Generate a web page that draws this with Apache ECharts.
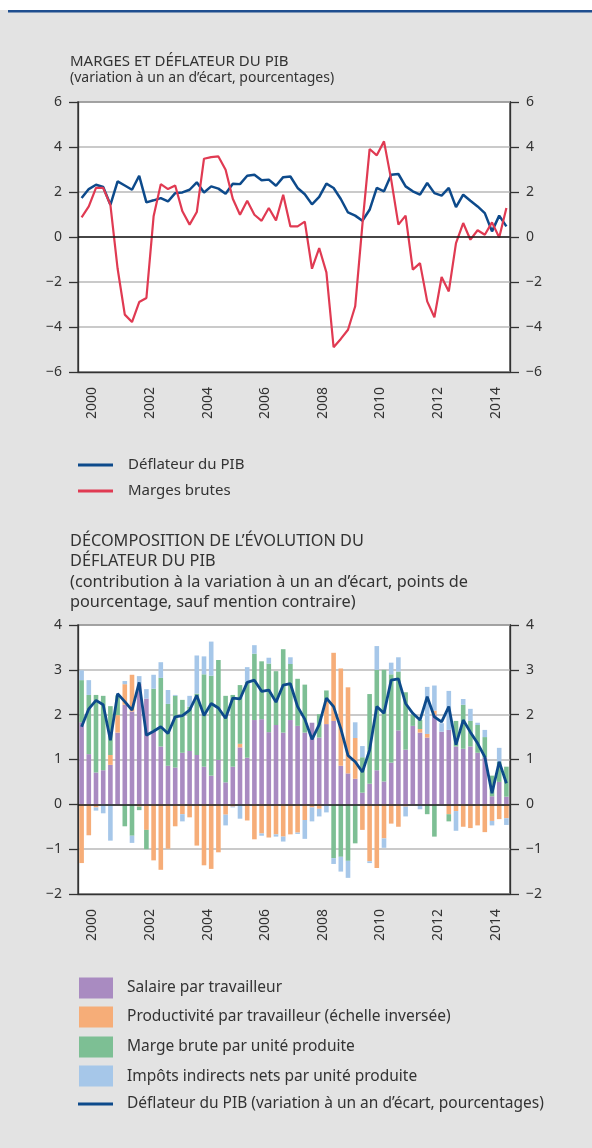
<!DOCTYPE html>
<html>
<head>
<meta charset="utf-8">
<script src="https://cdn.jsdelivr.net/npm/echarts@6/dist/echarts.min.js"></script>
<style>
  html, body { margin: 0; padding: 0; background: #fff; }
  #chart { width: 592px; height: 1148px; }
</style>
</head>
<body>
<div id="chart"></div>
<script>
(function() {
  // années et trimestres
  var years = ['2000', '2001', '2002', '2003', '2004', '2005', '2006', '2007',
               '2008', '2009', '2010', '2011', '2012', '2013', '2014'];
  var quarters = [];
  years.forEach(function(y) { for (var q = 1; q <= 4; q++) quarters.push(y + 'T' + q); });

  // déflateur du PIB (variation à un an d'écart, %)
  var deflateur = [
    1.73, 2.13, 2.32, 2.22, 1.43, 2.47, 2.29, 2.10, 2.72, 1.54,
    1.63, 1.73, 1.58, 1.95, 1.98, 2.10, 2.43, 1.98, 2.25, 2.15,
    1.92, 2.37, 2.35, 2.72, 2.77, 2.52, 2.55, 2.28, 2.66, 2.69,
    2.18, 1.90, 1.45, 1.78, 2.37, 2.18, 1.69, 1.09, 0.95, 0.72,
    1.21, 2.18, 2.03, 2.77, 2.80, 2.25, 2.03, 1.88, 2.40, 1.95,
    1.84, 2.18, 1.33, 1.88, 1.61, 1.36, 1.06, 0.25, 0.95, 0.47
  ];
  // marges brutes
  var marges = [
    0.87, 1.36, 2.18, 2.18, 1.43, -1.40, -3.45, -3.78, -2.89, -2.71,
    0.92, 2.35, 2.13, 2.29, 1.14, 0.55, 1.11, 3.48, 3.55, 3.58,
    2.99, 1.70, 0.99, 1.61, 0.99, 0.72, 1.29, 0.74, 1.88, 0.47,
    0.47, 0.68, -1.41, -0.49, -1.57, -4.90, -4.53, -4.12, -3.08, 0.55,
    3.91, 3.63, 4.25, 2.55, 0.55, 0.95, -1.45, -1.16, -2.86, -3.57,
    -1.78, -2.42, -0.27, 0.62, -0.12, 0.30, 0.10, 0.65, -0.02, 1.29
  ];
  // contributions
  var salaire = [
    1.83, 1.12, 0.71, 0.76, 0.88, 1.60, 2.22, 2.07, 2.68, 2.36,
    1.64, 1.29, 0.86, 0.82, 1.15, 1.19, 1.10, 0.84, 0.64, 0.99,
    0.49, 0.84, 1.27, 1.04, 1.88, 1.90, 1.61, 1.77, 1.60, 1.88,
    1.75, 1.60, 1.82, 1.49, 1.79, 1.86, 0.86, 0.69, 0.57, 0.26,
    0.46, 0.76, 0.51, 0.93, 1.65, 1.22, 1.75, 1.60, 1.49, 2.00,
    1.62, 1.66, 1.29, 1.24, 1.29, 1.15, 1.05, 0.18, 0.50, 0.17
  ];
  var productivite = [
    -1.31, -0.69, -0.07, 0, 0.22, 0.39, 0.46, 0.82, -0.05, -0.57,
    -1.25, -1.46, -0.99, -0.49, -0.22, -0.29, -0.92, -1.36, -1.44, -1.07,
    -0.23, -0.05, 0.08, -0.36, -0.78, -0.65, -0.74, -0.67, -0.72, -0.67,
    -0.63, -0.35, -0.07, -0.10, 0.54, 1.52, 2.17, 1.92, 0.91, -0.57,
    -1.27, -1.42, -0.76, -0.43, -0.50, -0.05, 0, 0.08, 0.08, 0.09,
    0, -0.22, -0.15, -0.50, -0.53, -0.47, -0.62, -0.37, -0.33, -0.31
  ];
  var margeUnite = [
    0.94, 1.32, 1.73, 1.66, 1.09, 0.44, -0.49, -0.70, -0.08, -0.43,
    0.94, 1.53, 1.38, 1.60, 1.18, 0.99, 1.37, 2.06, 2.23, 2.23,
    1.93, 1.60, 1.31, 1.69, 1.48, 1.29, 1.53, 1.20, 1.86, 1.25,
    1.05, 1.07, 0, 0.52, 0.21, -1.20, -1.17, -1.26, -0.87, 0.79,
    2.00, 2.24, 2.49, 1.97, 1.31, 1.28, 0.25, 0.20, -0.22, -0.72,
    0, -0.16, 0.57, 0.98, 0.57, 0.62, 0.45, 0.46, 0.45, 0.67
  ];
  var impots = [
    0.22, 0.33, -0.07, -0.20, -0.81, 0, 0.07, -0.16, 0.18, 0.21,
    0.31, 0.35, 0.31, 0.02, -0.16, 0.24, 0.85, 0.40, 0.76, 0,
    -0.24, -0.02, -0.32, 0.33, 0.19, -0.05, 0.13, -0.05, -0.11, 0.15,
    -0.03, -0.42, -0.31, -0.17, -0.18, -0.13, -0.33, -0.38, 0.35, 0.25,
    -0.04, 0.53, -0.21, 0.26, 0.32, -0.22, 0, -0.11, 1.05, 0.56,
    0.19, 0.87, -0.44, 0.13, 0.27, 0.05, 0.16, -0.10, 0.31, -0.15
  ];

  var FONT = '"Noto Sans", sans-serif';
  var ink = '#333333';
  var rule = '#b8b8b8';
  var cDefl = '#0d4a8b';
  var cMarge = '#e03a52';
  var cSal = '#a98bc1';
  var cProd = '#f6ad78';
  var cMargeU = '#7dbf94';
  var cImp = '#a6c7e9';

  function minus(v) { return v < 0 ? '\u2212' + Math.abs(v) : String(v); }

  function yAxisOf(gi, pos, min, max, step) {
    return {
      type: 'value', gridIndex: gi, position: pos, min: min, max: max, interval: step,
      axisLine: { show: true, onZero: false, lineStyle: { color: ink, width: 1.3 } },
      axisTick: { show: true, inside: false, length: 9, lineStyle: { color: ink, width: 1.3 } },
      axisLabel: { color: ink, fontFamily: FONT, fontSize: 14, margin: 16, formatter: minus },
      splitLine: { show: pos === 'left', lineStyle: { color: rule, width: 1.5 } }
    };
  }
  function yearAxis(gi) {
    return {
      type: 'category', gridIndex: gi, position: 'bottom', data: years, boundaryGap: true,
      axisLine: { onZero: false, lineStyle: { color: ink, width: 1.3 } },
      axisTick: { inside: true, length: 10, interval: 0, lineStyle: { color: ink, width: 1.3 } },
      axisLabel: { interval: 1, rotate: 90, margin: 15, color: ink, fontFamily: FONT, fontSize: 14 },
      splitLine: { show: false }
    };
  }
  function quarterAxis(gi) {
    return { type: 'category', gridIndex: gi, position: 'top', data: quarters, show: false, boundaryGap: true };
  }
  var zeroLine = {
    silent: true, symbol: 'none', animation: false, label: { show: false },
    lineStyle: { color: '#1a1a1a', width: 1.5, type: 'solid' },
    data: [{ yAxis: 0 }]
  };
  function bar(name, data, color) {
    return {
      name: name, type: 'bar', xAxisIndex: 2, yAxisIndex: 2, stack: 'contrib',
      barWidth: 4.6, data: data, itemStyle: { color: color }
    };
  }

  function txt(x, y, s, size, color) {
    return { type: 'text', x: x, y: y, z: 10,
      style: { text: s, font: size + 'px ' + FONT, fill: color || ink, verticalAlign: 'middle' } };
  }
  function swatch(y, color) {
    return { type: 'rect', z: 10, shape: { x: 79, y: y - 10.5, width: 34, height: 21 }, style: { fill: color } };
  }
  function legLine(y, color) {
    return { type: 'line', z: 10, shape: { x1: 78, y1: y, x2: 113, y2: y }, style: { stroke: color, lineWidth: 3 } };
  }

  var chart = echarts.init(document.getElementById('chart'));
  chart.setOption({
    animation: false,
    backgroundColor: '#e3e3e3',
    grid: [
      { left: 78, top: 102, width: 432, height: 270, show: true, backgroundColor: '#fff', borderColor: ink, borderWidth: 1.3 },
      { left: 78, top: 625, width: 432, height: 269, show: true, backgroundColor: '#fff', borderColor: ink, borderWidth: 1.3 }
    ],
    xAxis: [quarterAxis(0), yearAxis(0), quarterAxis(1), yearAxis(1)],
    yAxis: [
      yAxisOf(0, 'left', -6, 6, 2), yAxisOf(0, 'right', -6, 6, 2),
      yAxisOf(1, 'left', -2, 4, 1), yAxisOf(1, 'right', -2, 4, 1)
    ],
    series: [
      { name: 'Déflateur du PIB', type: 'line', xAxisIndex: 0, yAxisIndex: 0, data: deflateur,
        symbol: 'none', lineStyle: { color: cDefl, width: 2.5 }, markLine: zeroLine },
      { name: 'Marges brutes', type: 'line', xAxisIndex: 0, yAxisIndex: 0, data: marges,
        symbol: 'none', lineStyle: { color: cMarge, width: 2.2 } },
      bar('Salaire par travailleur', salaire, cSal),
      bar('Productivité par travailleur (échelle inversée)', productivite, cProd),
      bar('Marge brute par unité produite', margeUnite, cMargeU),
      bar('Impôts indirects nets par unité produite', impots, cImp),
      { name: 'Déflateur du PIB (variation à un an d’écart, pourcentages)', type: 'line',
        xAxisIndex: 2, yAxisIndex: 2, data: deflateur, z: 5,
        symbol: 'none', lineStyle: { color: cDefl, width: 2.8 }, markLine: zeroLine }
    ],
    graphic: [
      { type: 'rect', z: 10, shape: { x: 0, y: 0, width: 592, height: 10 }, style: { fill: '#fff' } },
      { type: 'rect', z: 11, shape: { x: 8, y: 10, width: 584, height: 2.5 }, style: { fill: '#1f4e8f' } },
      txt(70, 62, 'MARGES ET DÉFLATEUR DU PIB', 15),
      txt(70, 78, '(variation à un an d’écart, pourcentages)', 14),
      legLine(465, cDefl), txt(128, 465, 'Déflateur du PIB', 15),
      legLine(491, cMarge), txt(128, 491, 'Marges brutes', 15),
      txt(70, 541, 'DÉCOMPOSITION DE L’ÉVOLUTION DU', 16.3),
      txt(70, 561, 'DÉFLATEUR DU PIB', 16.3),
      txt(70, 582, '(contribution à la variation à un an d’écart, points de', 16.3),
      txt(70, 602, 'pourcentage, sauf mention contraire)', 16.3),
      swatch(988, cSal), txt(127, 988, 'Salaire par travailleur', 15.5),
      swatch(1017, cProd), txt(127, 1017, 'Productivité par travailleur (échelle inversée)', 15.5),
      swatch(1047, cMargeU), txt(127, 1047, 'Marge brute par unité produite', 15.5),
      swatch(1076, cImp), txt(127, 1077, 'Impôts indirects nets par unité produite', 15.5),
      legLine(1104, cDefl), txt(127, 1104, 'Déflateur du PIB (variation à un an d’écart, pourcentages)', 15.5)
    ]
  });
  window.addEventListener('resize', function() { chart.resize(); });
})();
</script>
</body>
</html>
